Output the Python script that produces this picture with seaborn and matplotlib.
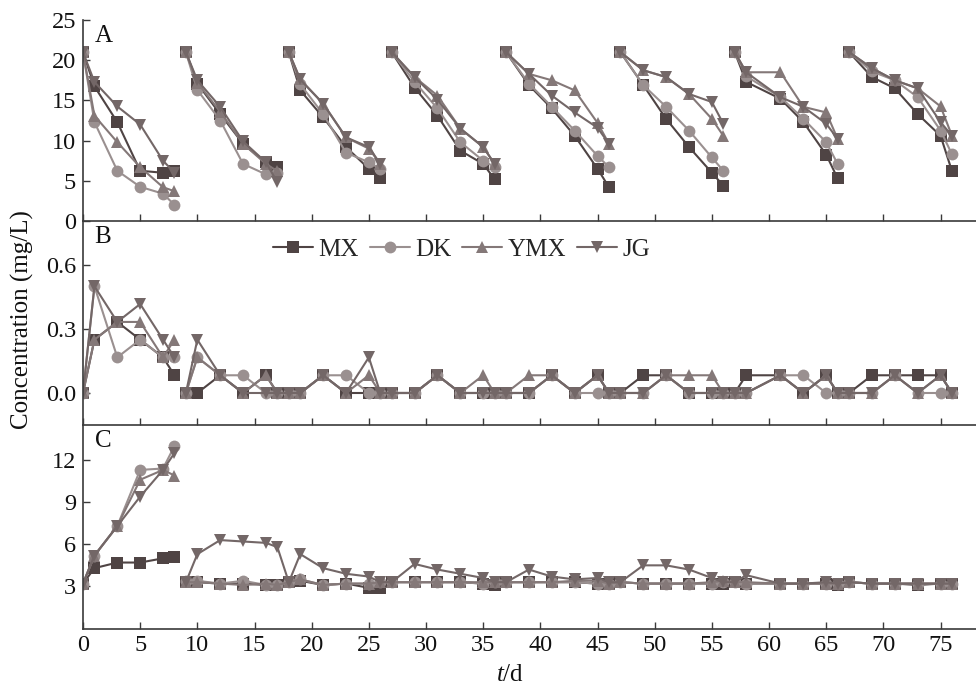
import numpy as np
import pandas as pd
import matplotlib
matplotlib.use('Agg')
import matplotlib.pyplot as plt
from matplotlib.lines import Line2D
import seaborn as sns

# Series names, colours and markers
series = ['MX', 'DK', 'YMX', 'JG']
colors = {'MX': '#4f4444', 'DK': '#9a9090', 'YMX': '#847878', 'JG': '#736767'}
markers = {'MX': 's', 'DK': 'o', 'YMX': '^', 'JG': 'v'}

# Panel A: eight batch cycles (days)
a_cycles = [[0, 1, 3, 5, 7, 8], [9, 10, 12, 14, 16, 17], [18, 19, 21, 23, 25, 26],
            [27, 29, 31, 33, 35, 36], [37, 39, 41, 43, 45, 46], [47, 49, 51, 53, 55, 56],
            [57, 58, 61, 63, 65, 66], [67, 69, 71, 73, 75, 76]]
a_mx = [21, 16.75, 12.3, 6.25, 6.0, 6.25,
        21, 17.1, 13.3, 9.6, 7.3, 6.7,
        21, 16.25, 12.9, 9.2, 6.5, 5.4,
        21, 16.6, 13.1, 8.75, 7.1, 5.2,
        21, 16.9, 14.0, 10.6, 6.5, 4.2,
        21, 16.9, 12.7, 9.2, 6.0, 4.4,
        21, 17.3, 15.2, 12.3, 8.25, 5.3,
        21, 17.9, 16.5, 13.3, 10.6, 6.2]
a_dk = [21, 12.3, 6.25, 4.25, 3.4, 2.0,
        21, 16.3, 12.5, 7.1, 5.8, 6.0,
        21, 17.0, 13.3, 8.5, 7.3, 6.5,
        21, 17.3, 14.0, 9.8, 7.5, 6.7,
        21, 17.1, 14.2, 11.25, 8.1, 6.7,
        21, 16.9, 14.2, 11.25, 7.9, 6.25,
        21, 18.0, 15.4, 12.7, 9.8, 7.1,
        21, 18.6, 17.5, 15.4, 11.25, 8.3]
a_ymx = [21, 13.1, 9.8, 6.7, 4.2, 3.7,
         21, 17.2, 13.6, 9.6, 7.1, 6.2,
         21, 17.6, 14.6, 10.4, 9.0, 7.1,
         21, 17.9, 15.6, 11.5, 9.2, 7.1,
         21, 18.3, 17.5, 16.25, 12.2, 9.6,
         21, 18.75, 17.9, 15.8, 12.7, 10.6,
         21, 18.5, 18.5, 14.2, 13.5, 10.2,
         21, 19.0, 17.5, 16.5, 14.25, 10.6]
a_jg = [21, 17.3, 14.25, 12.0, 7.5, 6.0,
        21, 17.5, 14.2, 9.9, 7.3, 4.8,
        21, 17.6, 14.6, 10.4, 9.2, 7.1,
        21, 17.9, 15.1, 11.5, 9.2, 7.1,
        21, 18.3, 15.6, 13.5, 11.6, 9.6,
        21, 18.75, 17.9, 15.8, 14.8, 12.1,
        21, 18.5, 15.4, 14.2, 12.1, 10.2,
        21, 19.0, 17.5, 16.5, 12.3, 10.6]

# Panels B and C: first batch, then continuous sampling
bc_days1 = [0, 1, 3, 5, 7, 8]
bc_days2 = [9, 10, 12, 14, 16, 17, 18, 19, 21, 23, 25, 26, 27, 29, 31, 33, 35, 36, 37, 39, 41,
            43, 45, 46, 47, 49, 51, 53, 55, 56, 57, 58, 61, 63, 65, 66, 67, 69, 71, 73, 75, 76]

b_mx = [0, 0.25, 0.333, 0.25, 0.167, 0.083,
        0, 0, 0.083, 0, 0.083, 0, 0, 0, 0.083, 0,
        0, 0, 0, 0, 0.083, 0, 0, 0, 0, 0,
        0.083, 0, 0.083, 0, 0, 0.083, 0.083, 0, 0, 0,
        0, 0.083, 0.083, 0, 0.083, 0, 0, 0.083, 0.083, 0.083,
        0.083, 0]
b_dk = [0, 0.5, 0.167, 0.25, 0.167, 0.167,
        0, 0.167, 0.083, 0.083, 0, 0, 0, 0, 0.083, 0.083,
        0, 0, 0, 0, 0.083, 0, 0, 0, 0, 0,
        0.083, 0, 0, 0, 0, 0, 0.083, 0, 0, 0,
        0, 0, 0.083, 0.083, 0, 0, 0, 0, 0.083, 0,
        0, 0]
b_ymx = [0, 0.25, 0.333, 0.333, 0.167, 0.25,
         0, 0.167, 0.083, 0, 0.083, 0, 0, 0, 0.083, 0,
         0.083, 0, 0, 0, 0.083, 0, 0.083, 0, 0, 0.083,
         0.083, 0, 0.083, 0, 0, 0, 0.083, 0.083, 0.083, 0,
         0, 0, 0.083, 0, 0.083, 0, 0, 0, 0.083, 0,
         0.083, 0]
b_jg = [0, 0.5, 0.333, 0.417, 0.25, 0.167,
        0, 0.25, 0.083, 0, 0, 0, 0, 0, 0.083, 0,
        0.167, 0, 0, 0, 0.083, 0, 0, 0, 0, 0,
        0.083, 0, 0.083, 0, 0, 0, 0.083, 0, 0, 0,
        0, 0, 0.083, 0, 0.083, 0, 0, 0, 0.083, 0,
        0.083, 0]

c_mx = [3.2, 4.3, 4.7, 4.7, 5.0, 5.1,
        3.3, 3.3, 3.2, 3.2, 3.1, 3.1, 3.3, 3.4, 3.1, 3.2, 2.9, 2.9, 3.3, 3.3, 3.3, 3.3, 3.2, 3.1, 3.3,
        3.3, 3.3, 3.3, 3.2, 3.2, 3.3, 3.2, 3.2, 3.2, 3.2, 3.2, 3.3, 3.2, 3.2, 3.2, 3.2, 3.1, 3.3, 3.2,
        3.2, 3.1, 3.2, 3.2]
c_dk = [3.2, 5.2, 7.3, 11.3, 11.4, 13.0,
        3.4, 3.4, 3.2, 3.4, 3.1, 3.1, 3.3, 3.5, 3.1, 3.2, 3.2, 3.3, 3.3, 3.3, 3.3, 3.3, 3.2, 3.3, 3.3,
        3.3, 3.3, 3.3, 3.2, 3.2, 3.3, 3.2, 3.2, 3.2, 3.2, 3.3, 3.3, 3.2, 3.2, 3.2, 3.2, 3.2, 3.3, 3.2,
        3.2, 3.2, 3.2, 3.2]
c_ymx = [3.2, 5.2, 7.3, 10.6, 11.3, 10.9,
         3.3, 3.3, 3.2, 3.1, 3.2, 3.1, 3.3, 3.5, 3.1, 3.2, 3.2, 3.3, 3.3, 3.3, 3.3, 3.3, 3.3, 3.3, 3.3,
         3.3, 3.3, 3.4, 3.4, 3.2, 3.3, 3.2, 3.2, 3.2, 3.3, 3.4, 3.3, 3.3, 3.2, 3.2, 3.2, 3.2, 3.3, 3.2,
         3.2, 3.2, 3.2, 3.2]
c_jg = [3.2, 5.2, 7.3, 9.4, 11.3, 12.5,
        3.3, 5.3, 6.3, 6.2, 6.1, 5.8, 3.3, 5.3, 4.3, 3.9, 3.7, 3.3, 3.3, 4.6, 4.2, 3.9, 3.6, 3.3, 3.3,
        4.2, 3.7, 3.5, 3.6, 3.3, 3.3, 4.5, 4.5, 4.2, 3.6, 3.3, 3.3, 3.8, 3.2, 3.2, 3.3, 3.2, 3.3, 3.2,
        3.2, 3.2, 3.2, 3.2]


def long_table(segments, values):
    rows = []
    for name, vals in values.items():
        i = 0
        for seg, days in enumerate(segments):
            for d in days:
                rows.append((name, seg, d, vals[i]))
                i += 1
    return pd.DataFrame(rows, columns=['series', 'seg', 'day', 'value'])


df_a = long_table(a_cycles, {'MX': a_mx, 'DK': a_dk, 'YMX': a_ymx, 'JG': a_jg})
df_b = long_table([bc_days1, bc_days2], {'MX': b_mx, 'DK': b_dk, 'YMX': b_ymx, 'JG': b_jg})
df_c = long_table([bc_days1, bc_days2], {'MX': c_mx, 'DK': c_dk, 'YMX': c_ymx, 'JG': c_jg})

sns.set_style('ticks')
plt.rcParams['font.family'] = ['Liberation Serif', 'DejaVu Serif']
plt.rcParams['mathtext.fontset'] = 'custom'
plt.rcParams['mathtext.rm'] = 'Liberation Serif'
plt.rcParams['mathtext.it'] = 'Liberation Serif:italic'

fig = plt.figure(figsize=(9.76, 6.87), dpi=100)
W, H = 976, 687
left = 83 / W
# pixel rows of the panel borders
edges = [20, 221, 425, 628.5]
axes = []
for k in range(3):
    top, bot = edges[k], edges[k + 1]
    axes.append(fig.add_axes([left, 1 - bot / H, 1 - left, (bot - top) / H]))

ax_a, ax_b, ax_c = axes
for ax, df in zip(axes, [df_a, df_b, df_c]):
    sns.lineplot(data=df, x='day', y='value', hue='series', style='series',
                 units='seg', estimator=None, sort=False,
                 hue_order=series, style_order=series, palette=colors,
                 markers=markers, dashes=False, markersize=8.5, markeredgewidth=0,
                 linewidth=1.5, legend=False, ax=ax)

ax_a.set_ylim(0, 25)
ax_a.set_yticks([0, 5, 10, 15, 20, 25])
ax_b.set_ylim(-0.15, 0.806)
ax_b.set_yticks([0.0, 0.3, 0.6])
ax_b.set_yticklabels(['0.0', '0.3', '0.6'])
ax_c.set_ylim(0, 14.5)
ax_c.set_yticks([3, 6, 9, 12])

for ax in axes:
    ax.set_xlim(0, 78.1)
    ax.set_xticks(range(0, 80, 5))
    ax.set_xlabel('')
    ax.set_ylabel('')
    for side in ['top', 'right']:
        ax.spines[side].set_visible(False)
    for side in ['left', 'bottom']:
        ax.spines[side].set_color('#3a3a3a')
        ax.spines[side].set_linewidth(1.2)
    ax.tick_params(direction='in', length=5, width=1, color='#3a3a3a',
                   labelsize=17.5, labelcolor='#111111', pad=5)
    ax.patch.set_alpha(0)

ax_a.tick_params(axis='x', labelbottom=False)
ax_b.tick_params(axis='x', labelbottom=False)

for ax, letter in zip(axes, ['A', 'B', 'C']):
    ax.text(0.013, 0.975, letter, transform=ax.transAxes, ha='left', va='top',
            fontsize=18, color='#111111')

handles = [Line2D([], [], color=colors[s], marker=markers[s], markersize=8.5,
                  markeredgewidth=0, lw=1.5) for s in series]
ax_b.legend(handles, series, ncol=4, frameon=False, loc='center',
            bbox_to_anchor=(0.424, 0.858), handlelength=1.6, handletextpad=0.2,
            columnspacing=0.45, fontsize=18)

fig.text(22 / W, 1 - 320 / H, 'Concentration (mg/L)', rotation=90,
         ha='center', va='center', fontsize=18, color='#111111')
fig.text(left + (510 - 83) / W, 1 - 675 / H, '$t$/d', ha='center', va='center',
         fontsize=18, color='#111111')

fig.savefig('out.png', dpi=100)
